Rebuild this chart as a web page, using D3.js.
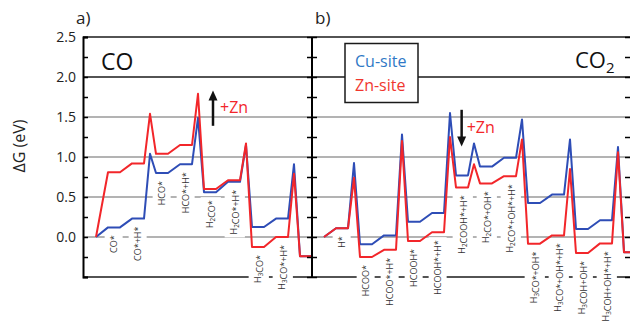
<!DOCTYPE html>
<html>
<head>
<meta charset="utf-8">
<script src="https://cdn.jsdelivr.net/npm/d3@7"></script>
<style>
  body { margin: 0; background: #fff; }
  text { font-family: "Open Sans", sans-serif; }
</style>
</head>
<body>
<svg id="chart" width="630" height="321"></svg>
<script>
// energies in eV, one value per intermediate state (first = start, last = end)
const statesA = ["", "CO*", "CO*+H*", "HCO*", "HCO*+H*", "H₂CO*", "H₂CO*+H*", "H₃CO*", "H₃CO*+H*", ""];
const cuA = [0, 0.12, 0.23, 0.80, 0.91, 0.56, 0.69, 0.125, 0.23, -0.24];
const znA = [0, 0.81, 0.92, 1.04, 1.15, 0.60, 0.71, -0.125, 0.0, -0.24];
// transition state energies between consecutive states (null = no barrier)
const cuTsA = [null, null, 1.04, null, 1.49, null, 1.15, null, 0.91];
const znTsA = [null, null, 1.54, null, 1.79, null, 1.17, null, 0.79];

const statesB = ["", "H*", "HCOO*", "HCOO*+H*", "HCOOH*", "HCOOH*+H*", "H₂COOH*+H*", "H₂CO*+OH*",
  "H₂CO*+OH*+H*", "H₃CO*+OH*", "H₃CO*+OH*+H*", "H₃COH+OH*", "H₃COH+OH*+H*", ""];
const cuB = [0, 0.11, -0.09, 0.02, 0.19, 0.30, 0.77, 0.88, 0.99, 0.425, 0.53, 0.10, 0.21, -0.19];
const znB = [0, 0.11, -0.25, -0.16, -0.05, 0.06, 0.62, 0.67, 0.76, -0.083, 0.02, -0.20, -0.08, -0.19];
const cuTsB = [null, 0.925, null, 1.28, null, 1.55, 1.17, null, 1.47, null, 1.22, null, 1.125];
const znTsB = [null, 0.74, null, 1.20, null, 1.25, 0.91, null, 1.22, null, 0.85, null, 1.06];

const yTicks = [-0.5, -0.25, 0, 0.25, 0.5, 0.75, 1.0, 1.25, 1.5, 1.75, 2.0, 2.25, 2.5];
const gridGray = [0, 0.5, 1.0, 1.5];
const seriesNames = ["Cu-site", "Zn-site"];

const blue = "#2e4db6", red = "#f2262a";

const svg = d3.select("#chart");
const left = 83, mid = 312, right = 631;

const y = d3.scaleLinear().domain([-0.5, 2.5]).range([277, 37]);
const xa = d3.scaleLinear().domain([0, 18]).range([96, 312]);
const xb = d3.scaleLinear().domain([0, 25.5]).range([324, 630]);

// reaction coordinate: each state is a flat step of 1 unit, each transition 1 unit
function profile(levels, ts) {
  const pts = [[0, levels[0]]];
  for (let i = 1; i < levels.length; i++) {
    const t = ts[i - 1];
    if (t != null) pts.push([2 * i - 1.5, t]);
    pts.push([2 * i - 1, levels[i]], [2 * i, levels[i]]);
  }
  return pts;
}

// gridlines
svg.append("g").selectAll("line")
  .data(gridGray)
  .enter().append("line")
  .attr("x1", left).attr("x2", right)
  .attr("y1", d => y(d)).attr("y2", d => y(d))
  .attr("stroke", "#9a9a9a").attr("stroke-width", 1.3);

svg.append("g").selectAll("line")
  .data([2.0, 2.5, -0.5])
  .enter().append("line")
  .attr("x1", left).attr("x2", right)
  .attr("y1", d => y(d)).attr("y2", d => y(d))
  .attr("stroke", "#1a1a1a").attr("stroke-width", 1.6);

// state labels with white boxes
function addSub(sel, str, size) {
  str.split(/([₂₃])/).forEach(part => {
    if (!part) return;
    if (part === "₂" || part === "₃") {
      sel.append("tspan").attr("font-size", size * 0.7).attr("dy", size * 0.25)
        .text(part === "₂" ? "2" : "3");
      sel.append("tspan").attr("dy", -size * 0.25).text("");
    } else {
      sel.append("tspan").text(part);
    }
  });
}

function drawLabels(states, cu, zn, x) {
  const g = svg.append("g");
  states.forEach((s, i) => {
    if (!s) return;
    const top = y(Math.min(cu[i], zn[i])) + 8;
    const lg = g.append("g").attr("transform", `translate(${x(2 * i - 0.5)},${top}) rotate(-90)`);
    const rect = lg.append("rect").attr("fill", "#fff");
    const t = lg.append("text")
      .attr("text-anchor", "end")
      .attr("dy", "0.35em")
      .attr("font-size", 9)
      .attr("fill", "#333");
    addSub(t, s, 9);
    const bb = t.node().getBBox();
    rect.attr("x", bb.x - 3).attr("y", bb.y - 2.5)
      .attr("width", bb.width + 6).attr("height", bb.height + 5);
  });
}
drawLabels(statesA, cuA, znA, xa);
drawLabels(statesB, cuB, znB, xb);

// energy profiles
function drawProfile(levels, ts, x, color) {
  const line = d3.line().x(d => x(d[0])).y(d => y(d[1]));
  svg.append("path")
    .attr("d", line(profile(levels, ts)))
    .attr("fill", "none")
    .attr("stroke", color)
    .attr("stroke-width", 2)
    .attr("stroke-linejoin", "round");
}
drawProfile(cuA, cuTsA, xa, blue);
drawProfile(znA, znTsA, xa, red);
drawProfile(cuB, cuTsB, xb, blue);
drawProfile(znB, znTsB, xb, red);

// axes
const fmt = d => (Math.abs(d * 2 - Math.round(d * 2)) < 1e-6 && d >= 0) ? d3.format(".1f")(d) : "";
const axL = svg.append("g")
  .attr("transform", `translate(${left},0)`)
  .call(d3.axisLeft(y).tickValues(yTicks).tickSize(-5).tickPadding(7).tickFormat(fmt));
axL.select(".domain").attr("stroke-width", 2);
axL.selectAll(".tick line").attr("stroke-width", 1.5);
axL.selectAll("text").attr("font-size", 14).attr("fill", "#222");

[d3.axisLeft, d3.axisRight].forEach(ax => {
  const g = svg.append("g")
    .attr("transform", `translate(${mid},0)`)
    .call(ax(y).tickValues(yTicks).tickSize(5).tickFormat(""));
  g.select(".domain").attr("stroke-width", 2).attr("d", `M0,${y(2.5)}V${y(-0.5)}`);
  g.selectAll(".tick line").attr("stroke-width", 1.5);
});

const axR = svg.append("g")
  .attr("transform", `translate(${right},0)`)
  .call(d3.axisLeft(y).tickValues(yTicks).tickSize(6).tickFormat(""));
axR.selectAll(".tick line").attr("stroke-width", 1.5);

// axis title
svg.append("text")
  .attr("transform", "translate(25,146) rotate(-90)")
  .attr("text-anchor", "middle")
  .attr("font-size", 16)
  .attr("fill", "#222")
  .text("ΔG (eV)");

// panel letters and titles
svg.append("text").attr("x", 76).attr("y", 24).attr("font-size", 17).attr("fill", "#222").text("a)");
svg.append("text").attr("x", 315).attr("y", 24).attr("font-size", 17).attr("fill", "#222").text("b)");
svg.append("text").attr("x", 101).attr("y", 70).attr("font-size", 23).attr("fill", "#111").text("CO");
const co2 = svg.append("text").attr("x", 575).attr("y", 68).attr("font-size", 22).attr("fill", "#111");
co2.append("tspan").text("CO");
co2.append("tspan").attr("font-size", 15).attr("dy", 5).text("2");

// legend
const leg = svg.append("g").attr("transform", "translate(345,43.5)");
leg.append("rect").attr("width", 73).attr("height", 59)
  .attr("fill", "#fff").attr("stroke", "#1a1a1a").attr("stroke-width", 1.5);
leg.selectAll("text")
  .data(seriesNames)
  .enter().append("text")
  .attr("x", 10)
  .attr("y", (d, i) => 23 + i * 24)
  .attr("font-size", 16)
  .attr("fill", (d, i) => i ? "#f0362e" : "#2f78c6")
  .text(d => d);

// +Zn arrows
function arrow(x0, y0, y1) {
  const dir = y1 < y0 ? -1 : 1;
  svg.append("line")
    .attr("x1", x0).attr("x2", x0)
    .attr("y1", y0).attr("y2", y1 - dir * 8)
    .attr("stroke", "#111").attr("stroke-width", 2.5);
  svg.append("path")
    .attr("d", `M${x0 - 4.5},${y1 - dir * 10}L${x0},${y1}L${x0 + 4.5},${y1 - dir * 10}Z`)
    .attr("fill", "#111");
}
arrow(xa(9.75), y(1.39), y(1.83));
svg.append("text").attr("x", xa(9.75) + 7).attr("y", 113).attr("font-size", 16).attr("fill", red).text("+Zn");
arrow(xb(11.47), y(1.59), y(1.13));
svg.append("text").attr("x", xb(11.47) + 5).attr("y", 133).attr("font-size", 16).attr("fill", red).text("+Zn");
</script>
</body>
</html>
